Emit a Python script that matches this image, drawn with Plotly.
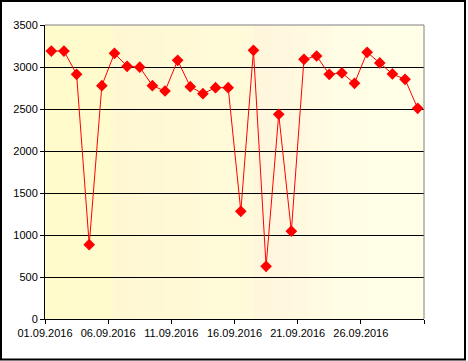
import plotly.graph_objects as go
import pandas as pd

dates = ["2016-09-%02d" % d for d in range(1, 31)]
values = [3190, 3190, 2913, 885, 2778, 3163, 3008, 2998, 2778, 2714,
          3079, 2766, 2683, 2754, 2754, 1282, 3198, 627, 2437, 1046,
          3091, 3131, 2913, 2929, 2806, 3175, 3048, 2917, 2853, 2508]
tick_dates = ["2016-09-01", "2016-09-06", "2016-09-11", "2016-09-16",
              "2016-09-21", "2016-09-26", "2016-10-01"]
tick_labels = ["01.09.2016", "06.09.2016", "11.09.2016", "16.09.2016",
               "21.09.2016", "26.09.2016", ""]
y_ticks = [0, 500, 1000, 1500, 2000, 2500, 3000, 3500]

# points centered within each day
x = pd.to_datetime(dates) + pd.Timedelta(hours=12)

fig = go.Figure()
fig.add_trace(go.Scatter(
    x=x, y=values, mode="lines+markers",
    line=dict(color="#FF0000", width=1),
    marker=dict(symbol="diamond", size=9, color="#FF0000"),
    showlegend=False,
))

# background gradient bands (x in paper coords of the plot area)
stops = [(0.00, (255, 251, 203)), (0.175, (255, 251, 205)),
         (0.18, (255, 247, 210)), (0.55, (255, 251, 218)),
         (0.555, (255, 246, 220)), (0.75, (255, 251, 226)),
         (0.76, (255, 253, 228)), (1.00, (255, 255, 232))]
def col(t):
    for (a, ca), (b, cb) in zip(stops[:-1], stops[1:]):
        if a <= t <= b:
            f = 0 if b == a else (t - a) / (b - a)
            return "rgb(%d,%d,%d)" % tuple(round(ca[i] + (cb[i] - ca[i]) * f) for i in range(3))
    return "rgb(255,255,232)"
n = 120
shapes = []
for i in range(n):
    x0 = i / n
    x1 = (i + 1) / n
    shapes.append(dict(type="rect", xref="paper", yref="paper", x0=x0, x1=x1 + 0.002,
                       y0=0, y1=1, fillcolor=col((x0 + x1) / 2), line=dict(width=0),
                       layer="below"))
# plot area top/right gray border
shapes.append(dict(type="line", xref="paper", yref="paper", x0=0, x1=1, y0=1, y1=1,
                   line=dict(color="#808080", width=1), layer="above"))
shapes.append(dict(type="line", xref="paper", yref="paper", x0=1, x1=1, y0=0, y1=1,
                   line=dict(color="#808080", width=1), layer="above"))
# outer chart border
L, R, T, B = 45, 44, 25, 42
W, H = 468, 361
pw, ph = W - L - R, H - T - B
def px(xp): return (xp - L) / pw
def py(yp): return (H - B - yp) / ph
shapes.append(dict(type="rect", xref="paper", yref="paper",
                   x0=px(1), x1=px(465), y0=py(359.5), y1=py(1),
                   line=dict(color="black", width=2), layer="above"))

fig.update_layout(
    width=W, height=H,
    margin=dict(l=L, r=R, t=T, b=B),
    paper_bgcolor="white", plot_bgcolor="rgba(0,0,0,0)",
    font=dict(family="Liberation Sans, Arial", size=11, color="black"),
    shapes=shapes,
    xaxis=dict(type="date", range=["2016-09-01", "2016-10-01"],
               tickvals=tick_dates, ticktext=tick_labels,
               showgrid=False, showline=True, linecolor="black", linewidth=1,
               ticks="outside", ticklen=4, tickcolor="black", zeroline=False),
    yaxis=dict(range=[0, 3500], tickvals=y_ticks,
               showgrid=True, gridcolor="black", gridwidth=1,
               showline=True, linecolor="black", linewidth=1,
               ticks="outside", ticklen=4, tickcolor="black", zeroline=False),
)
fig.write_html("out.html")
